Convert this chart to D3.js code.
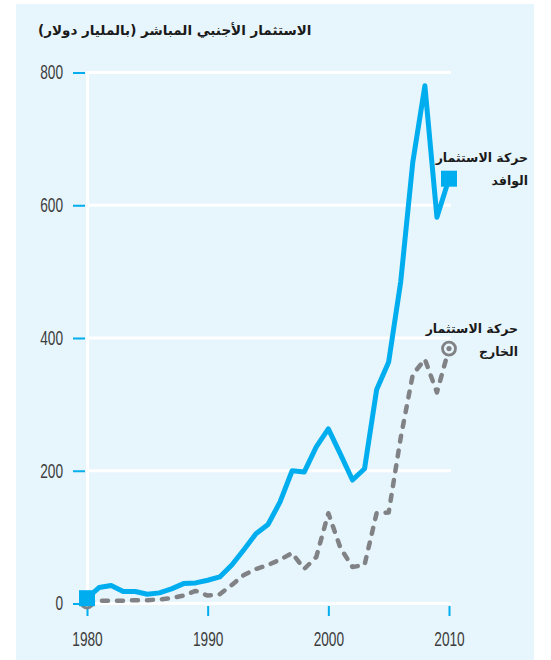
<!DOCTYPE html>
<html>
<head>
<meta charset="utf-8">
<script src="https://cdn.jsdelivr.net/npm/d3@7"></script>
<style>
  body { margin: 0; background: #fff; }
  svg { display: block; }
</style>
</head>
<body>
<div id="chart"></div>
<script>
// values, billion dollars
const years = d3.range(1980, 2011)
const inward = [8, 24, 27, 18, 18, 14, 16, 22, 30, 31, 35, 40, 58, 81, 105, 119, 153, 200, 198, 236,
    263, 225, 186, 203, 322, 364, 485, 665, 780, 582, 640]
const outward = [3, 4, 4, 4, 5, 5, 6, 8, 12, 19, 12, 14, 28, 43, 52, 58, 66, 76, 52, 70,
    136, 84, 55, 58, 136, 137, 250, 345, 368, 318, 384]
const yTicks = [0, 200, 400, 600, 800]
const xTicks = [1980, 1990, 2000, 2010]
const title = "الاستثمار الأجنبي المباشر (بالمليار دولار)"
const inwardLabel = ["حركة الاستثمار", "الوافد"]
const outwardLabel = ["حركة الاستثمار", "الخارج"]

const width = 551, height = 660
const blue = "#00aeef", grey = "#808285", bg = "#e7f5fc"
const numFont = "'Liberation Sans', Arial, sans-serif"
const arFont = "'DejaVu Sans', sans-serif"

const x = d3.scaleLinear().domain([1980, 2010]).range([87, 449])
const y = d3.scaleLinear().domain([0, 800]).range([603.5, 72.5])

const svg = d3.select("#chart").append("svg")
    .attr("width", width)
    .attr("height", height)

svg.append("rect")
    .attr("x", 16).attr("y", 4)
    .attr("width", 518).attr("height", height - 4)
    .attr("fill", bg)

svg.append("text")
    .attr("x", 38).attr("y", 35)
    .attr("direction", "rtl")
    .attr("text-anchor", "end")
    .attr("font-family", arFont)
    .attr("font-weight", "bold")
    .attr("font-size", 13.5)
    .attr("fill", "#1a1a1a")
    .text(title)

// white grid
svg.append("g")
    .selectAll("line")
    .data(yTicks)
    .join("line")
    .attr("x1", 86).attr("x2", 451)
    .attr("y1", d => y(d)).attr("y2", d => y(d))
    .attr("stroke", "#fff")
    .attr("stroke-width", 3)
svg.append("line")
    .attr("x1", 87.5).attr("x2", 87.5)
    .attr("y1", y(800) - 1.5).attr("y2", y(0))
    .attr("stroke", "#fff")
    .attr("stroke-width", 3)

// axes
const yAxis = svg.append("g")
    .attr("transform", "translate(85,0)")
    .call(d3.axisLeft(y).tickValues(yTicks).tickSize(12).tickPadding(10))
const xAxis = svg.append("g")
    .attr("transform", "translate(0,606)")
    .call(d3.axisBottom(x).tickValues(xTicks).tickFormat(d3.format("d")).tickSize(10).tickPadding(16))
;[yAxis, xAxis].forEach(function(ax) {
    ax.select(".domain").remove()
    ax.selectAll(".tick line").attr("stroke", blue).attr("stroke-width", 2)
    // condensed look: squeeze the digits
    ax.selectAll(".tick text")
	.attr("fill", "#3d3d3d")
	.attr("font-family", numFont)
	.attr("font-size", 20)
	.attr("textLength", function() { return this.textContent.length * 7.6 })
	.attr("lengthAdjust", "spacingAndGlyphs")
})

const line = d3.line()
    .x((d, i) => x(years[i]))
    .y(d => y(d))

svg.append("path")
    .datum(outward)
    .attr("d", line)
    .attr("fill", "none")
    .attr("stroke", grey)
    .attr("stroke-width", 4.5)
    .attr("stroke-linecap", "round")
    .attr("stroke-linejoin", "round")
    .attr("stroke-dasharray", "6,9")

svg.append("path")
    .datum(inward)
    .attr("d", line)
    .attr("fill", "none")
    .attr("stroke", blue)
    .attr("stroke-width", 5)
    .attr("stroke-linejoin", "round")

// end markers
const last = years.length - 1
;[0, last].forEach(function(i) {
    svg.append("circle")
	.attr("cx", x(years[i])).attr("cy", y(outward[i]))
	.attr("r", 6.5)
	.attr("fill", bg)
	.attr("stroke", grey)
	.attr("stroke-width", 2.8)
    svg.append("circle")
	.attr("cx", x(years[i])).attr("cy", y(outward[i]))
	.attr("r", 2.6)
	.attr("fill", grey)
    svg.append("rect")
	.attr("x", x(years[i]) - 8).attr("y", y(inward[i]) - 8)
	.attr("width", 16).attr("height", 16)
	.attr("fill", blue)
})

function label(lines, xr, y0) {
    svg.append("g")
	.selectAll("text")
	.data(lines)
	.join("text")
	.attr("x", xr)
	.attr("y", (d, i) => y0 + i * 23)
	.attr("direction", "rtl")
	.attr("text-anchor", "start")
	.attr("font-family", arFont)
	.attr("font-weight", "bold")
	.attr("font-size", 12.5)
	.attr("fill", "#1a1a1a")
	.text(d => d)
}
label(inwardLabel, 528, 162)
label(outwardLabel, 518, 333)
</script>
</body>
</html>
